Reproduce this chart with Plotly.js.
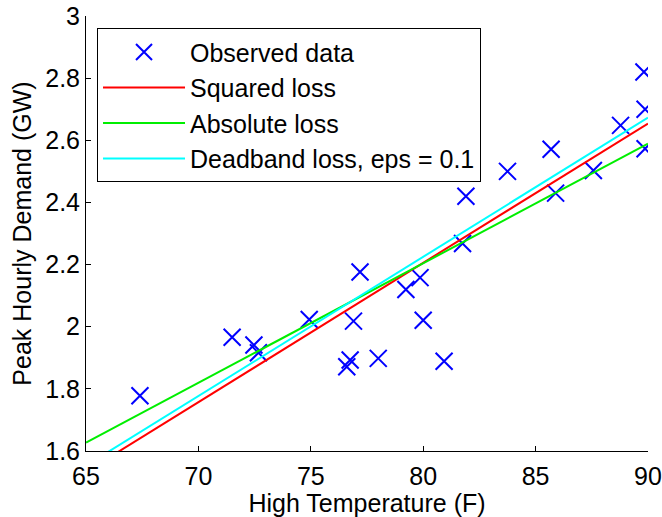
<!DOCTYPE html>
<html>
<head>
<meta charset="utf-8">
<script src="https://cdn.plot.ly/plotly-3.0.1.min.js"></script>
<style>html,body{margin:0;padding:0;background:#fff;}#chart{width:662px;height:517px;}</style>
</head>
<body>
<div id="chart"></div>
<script>
var temperature = [67.4, 71.5, 72.47, 72.67, 74.93, 76.6, 76.75, 76.9, 77.19, 78.0, 79.23, 79.86, 80.0, 80.93, 81.75, 81.9, 83.75, 85.69, 85.89, 87.57, 88.78, 89.87, 89.87, 89.82];
var demand = [1.778, 1.966, 1.941, 1.916, 2.023, 1.871, 1.893, 2.018, 2.176, 1.898, 2.12, 2.158, 2.021, 1.889, 2.268, 2.42, 2.50, 2.571, 2.43, 2.503, 2.648, 2.573, 2.70, 2.82];

// Fitted lines (endpoints)
var fitX = [65, 90];
var squaredY = [1.533, 2.654];
var absoluteY = [1.627, 2.589];
var deadbandY = [1.553, 2.673];

var seriesNames = ['Observed data', 'Squared loss', 'Absolute loss', 'Deadband loss, eps = 0.1'];
var xTicks = [65, 70, 75, 80, 85, 90];
var yTicks = [1.6, 1.8, 2, 2.2, 2.4, 2.6, 2.8, 3];

var font = {family: 'Liberation Sans, Arial, sans-serif', size: 25, color: '#000'};

var traces = [
  {x: temperature, y: demand, type: 'scatter', mode: 'markers', name: seriesNames[0],
   marker: {symbol: 'x-thin-open', size: 17, color: '#0000ff', line: {color: '#0000ff', width: 2}}},
  {x: fitX, y: squaredY, type: 'scatter', mode: 'lines', name: seriesNames[1],
   line: {color: '#ff0000', width: 2}},
  {x: fitX, y: absoluteY, type: 'scatter', mode: 'lines', name: seriesNames[2],
   line: {color: '#00ee00', width: 2}},
  {x: fitX, y: deadbandY, type: 'scatter', mode: 'lines', name: seriesNames[3],
   line: {color: '#00ffff', width: 2}}
];

var axisCommon = {
  showline: true, linecolor: '#000', linewidth: 1, mirror: false,
  ticks: 'inside', ticklen: 5, tickwidth: 1, tickcolor: '#000',
  showgrid: false, zeroline: false, tickfont: font
};

var layout = {
  width: 662, height: 517,
  margin: {l: 86, r: 14, t: 16, b: 66},
  paper_bgcolor: '#fff', plot_bgcolor: '#fff',
  font: font,
  showlegend: true,
  legend: {x: 0.0196, y: 0.972, xanchor: 'left', yanchor: 'top',
           bgcolor: '#fff', bordercolor: '#000', borderwidth: 1,
           font: font, traceorder: 'normal', itemwidth: 82, entrywidth: 390},
  xaxis: Object.assign({}, axisCommon, {range: [65, 90], tickvals: xTicks, ticklabelstandoff: 3,
           title: {text: 'High Temperature (F)', font: font, standoff: 0}}),
  yaxis: Object.assign({}, axisCommon, {range: [1.6, 3], tickvals: yTicks,
           title: {text: 'Peak Hourly Demand (GW)', font: font, standoff: 6}})
};

Plotly.newPlot('chart', traces, layout, {staticPlot: true, displayModeBar: false});
</script>
</body>
</html>
